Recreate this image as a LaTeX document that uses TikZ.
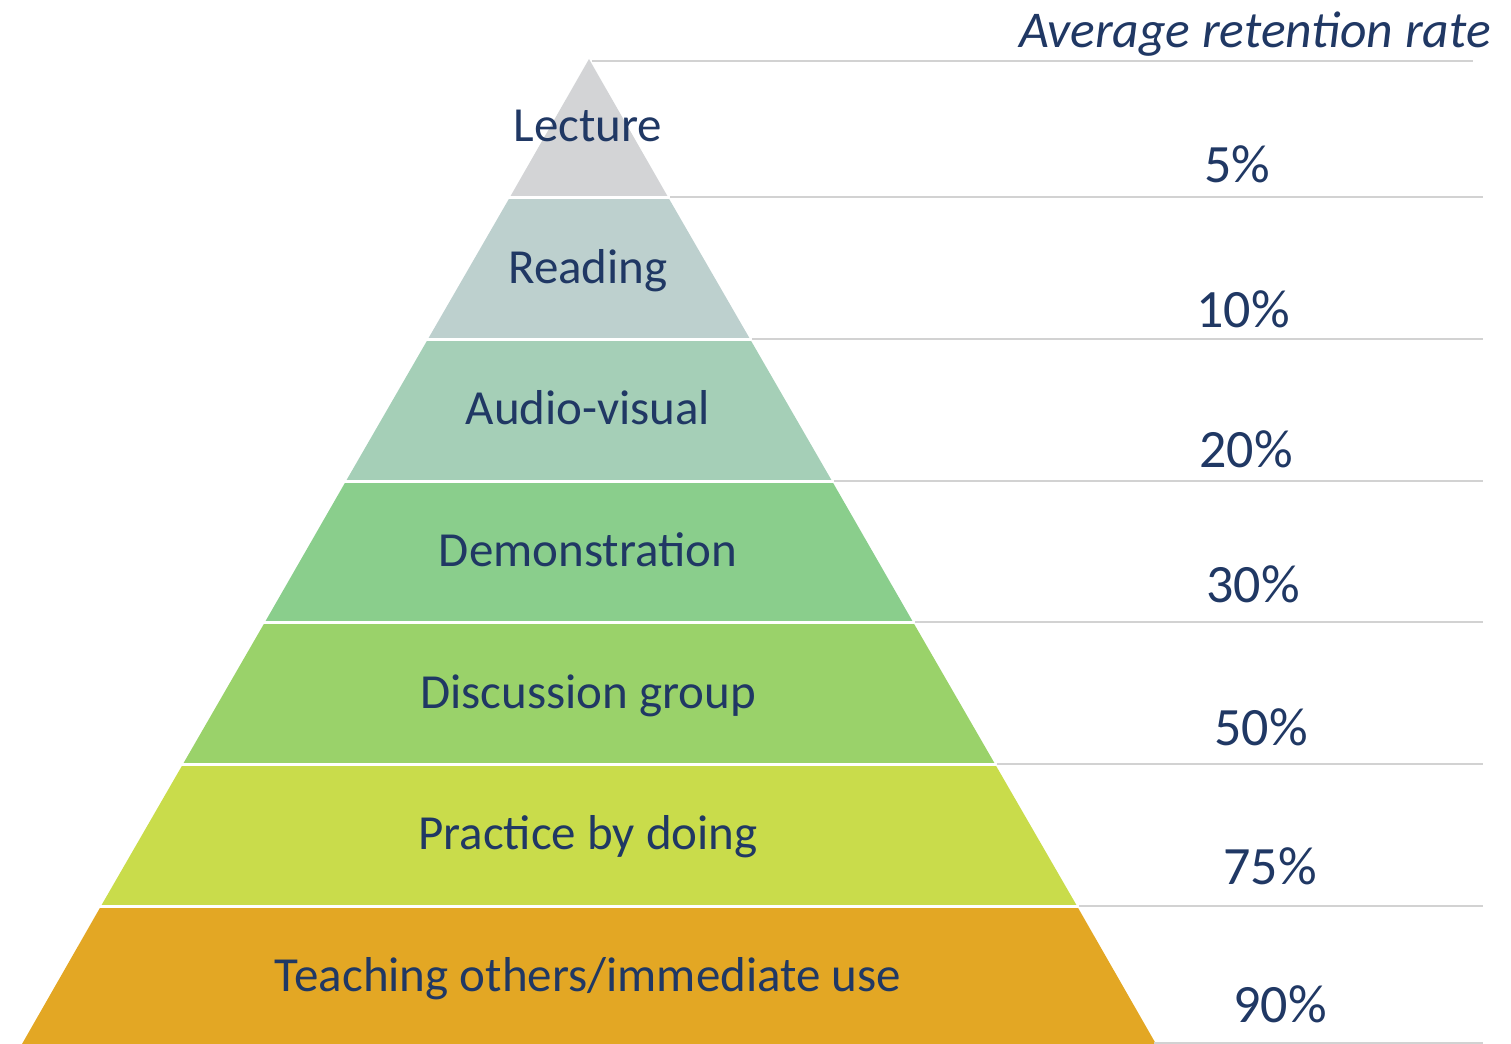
\documentclass[tikz,border=0pt]{standalone}
\usepackage{fontspec}
\setmainfont{Carlito}
\usepackage{xcolor}
\usepackage{tikz}
\definecolor{ink}{HTML}{203864}
\definecolor{rulegray}{HTML}{D2D2D2}
\definecolor{lecturec}{HTML}{D3D4D6}
\definecolor{readingc}{HTML}{BDD0CE}
\definecolor{audioc}{HTML}{A5CFB7}
\definecolor{democ}{HTML}{8ACE8C}
\definecolor{discussc}{HTML}{9AD26A}
\definecolor{practicec}{HTML}{C9DC4B}
\definecolor{teachc}{HTML}{E3A724}
\tikzset{
    tier/.style={anchor=base, inner sep=0pt, text=ink, font=\fontsize{24.5}{30}\selectfont},
    rate/.style={anchor=base, inner sep=0pt, text=ink, font=\fontsize{27}{32}\selectfont},
    heading/.style={anchor=base east, inner sep=0pt, text=ink, font=\fontsize{25.8}{32}\selectfont\itshape},
    gap/.style={draw=white, line width=1.5pt},
    guide/.style={draw=rulegray, line width=1.2pt} }

\begin{document}
\begin{tikzpicture}[x=0.5pt, y=-0.5pt]
			\useasboundingbox (0,0) rectangle (1511,1044);
			% corners of the pyramid, top to bottom
			\coordinate (top) at (589,59);
			\coordinate (l1) at (510,197);  \coordinate (r1) at (668,197);
			\coordinate (l2) at (428,339);  \coordinate (r2) at (750,339);
			\coordinate (l3) at (346,481);  \coordinate (r3) at (832,481);
			\coordinate (l4) at (265,622);  \coordinate (r4) at (913,622);
			\coordinate (l5) at (183,764);  \coordinate (r5) at (995,764);
			\coordinate (l6) at (101,906);  \coordinate (r6) at (1077,906);
			\coordinate (l7) at (22,1044);  \coordinate (r7) at (1156,1044);
			% right ends of the guide lines
			\coordinate (e0) at (1473,61);
			\coordinate (e1) at (1483,197);
			\coordinate (e2) at (1483,339);
			\coordinate (e3) at (1483,481);
			\coordinate (e4) at (1483,622);
			\coordinate (e5) at (1483,764);
			\coordinate (e6) at (1483,906);
			\coordinate (e7) at (1483,1043);
			% ----
			\fill[lecturec] (top) -- (r1) -- (l1) -- cycle;
			\fill[readingc] (l1) -- (r1) -- (r2) -- (l2) -- cycle;
			\fill[audioc] (l2) -- (r2) -- (r3) -- (l3) -- cycle;
			\fill[democ] (l3) -- (r3) -- (r4) -- (l4) -- cycle;
			\fill[discussc] (l4) -- (r4) -- (r5) -- (l5) -- cycle;
			\fill[practicec] (l5) -- (r5) -- (r6) -- (l6) -- cycle;
			\fill[teachc] (l6) -- (r6) -- (r7) -- (l7) -- cycle;

			\draw[gap] ([xshift=-2pt]l1) -- ([xshift=2pt]r1);
			\draw[gap] ([xshift=-2pt]l2) -- ([xshift=2pt]r2);
			\draw[gap] ([xshift=-2pt]l3) -- ([xshift=2pt]r3);
			\draw[gap] ([xshift=-2pt]l4) -- ([xshift=2pt]r4);
			\draw[gap] ([xshift=-2pt]l5) -- ([xshift=2pt]r5);
			\draw[gap] ([xshift=-2pt]l6) -- ([xshift=2pt]r6);

			\draw[guide] ([xshift=1.5pt, yshift=-1pt]top) -- (e0);
			\draw[guide] ([xshift=1pt]r1) -- (e1);
			\draw[guide] ([xshift=1pt]r2) -- (e2);
			\draw[guide] ([xshift=1pt]r3) -- (e3);
			\draw[guide] ([xshift=1pt]r4) -- (e4);
			\draw[guide] ([xshift=1pt]r5) -- (e5);
			\draw[guide] ([xshift=1pt]r6) -- (e6);
			\draw[guide] ([xshift=-1pt, yshift=0.5pt]r7) -- (e7);
			% ----
			\node[tier] (lecture) at (588,141) {Lecture};
			\node[tier] (reading) at (588,283) {Reading};
			\node[tier] (audio) at (588,424) {Audio-visual};
			\node[tier] (demo) at (588,566) {Demonstration};
			\node[tier] (discuss) at (588,708) {Discussion group};
			\node[tier] (practice) at (588,849) {Practice by doing};
			\node[tier] (teach) at (588,991) {Teaching others/immediate use};

			\node[heading] (avg) at (1491,47) {Average retention rate};
			\node[rate] (p5) at (1237,182) {5\%};
			\node[rate] (p10) at (1243,327) {10\%};
			\node[rate] (p20) at (1246,467) {20\%};
			\node[rate] (p30) at (1253,602) {30\%};
			\node[rate] (p50) at (1261,745) {50\%};
			\node[rate] (p75) at (1270,884) {75\%};
			\node[rate] (p90) at (1280,1022) {90\%};
		\end{tikzpicture}
\end{document}
